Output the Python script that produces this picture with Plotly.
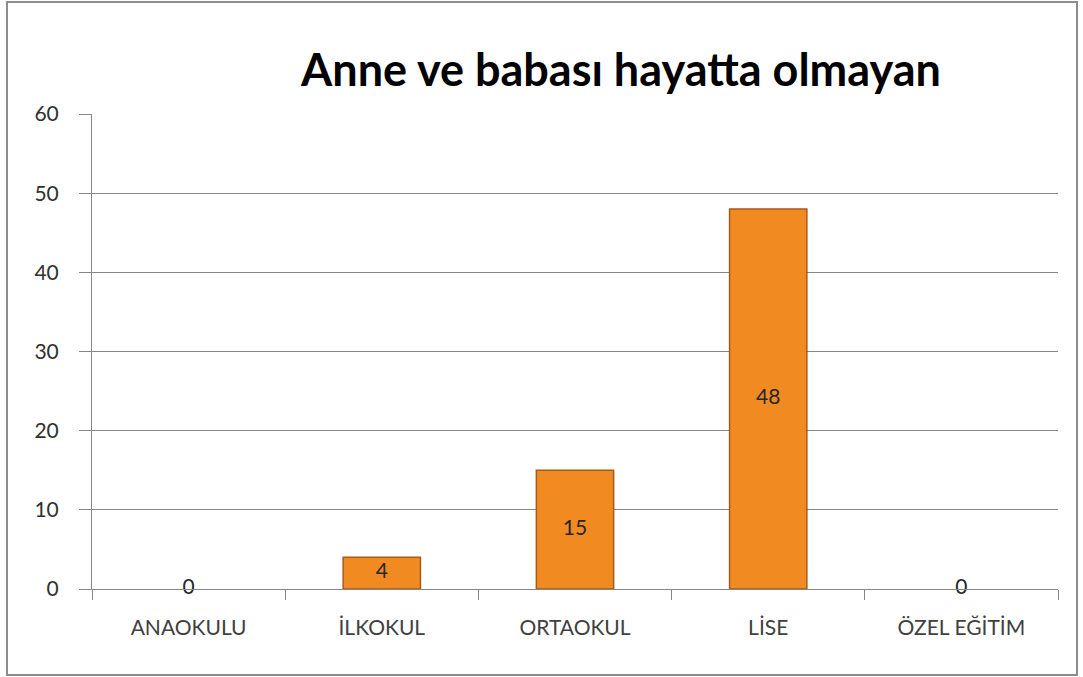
import plotly.graph_objects as go

categories = ["ANAOKULU", "İLKOKUL", "ORTAOKUL", "LİSE", "ÖZEL EĞİTİM"]
values = [0, 4, 15, 48, 0]
y_ticks = [0, 10, 20, 30, 40, 50, 60]
title_text = "Anne ve babası hayatta olmayan"

W, H = 1083, 677
ML, MR, MT, MB = 92, 25, 114, 88
pw = W - ML - MR
ph = H - MT - MB
FONT = "Lato, Noto Sans, sans-serif"

fig = go.Figure()
fig.add_trace(go.Bar(
    x=categories, y=values,
    marker=dict(color="#F28A22",
                line=dict(color="#A85A18", width=[0 if v == 0 else 1.5 for v in values])),
    hoverinfo="x+y",
))
fig.add_trace(go.Scatter(
    x=categories, y=[v / 2 for v in values],
    mode="text", text=[str(v) for v in values],
    textfont=dict(family=FONT, size=21, color="#262626"),
    cliponaxis=False,
    hoverinfo="skip", showlegend=False,
))

axis_font = dict(family=FONT, size=21, color="#404040")
fig.update_layout(
    width=W, height=H,
    margin=dict(l=ML, r=MR, t=MT, b=MB),
    paper_bgcolor="white", plot_bgcolor="white",
    showlegend=False,
    bargap=0.6,
    title=dict(text="<b>" + title_text + "</b>", x=621 / W, xanchor="center",
               y=1 - 70 / H, yanchor="middle",
               font=dict(family=FONT, size=45, color="#000000")),
    xaxis=dict(
        type="category", showline=True, linecolor="#868686", linewidth=1,
        ticks="outside", tickson="boundaries", ticklen=10, tickcolor="#868686",
        tickfont=axis_font, showgrid=False, zeroline=False, ticklabelstandoff=20,
    ),
    yaxis=dict(
        range=[0, 60], tickvals=y_ticks, showline=True, linecolor="#868686", linewidth=1,
        ticks="outside", ticklen=12, tickcolor="#868686",
        showgrid=True, gridcolor="#868686", gridwidth=1, zeroline=False,
        tickfont=dict(family=FONT, size=21, color="#303030"), ticklabelstandoff=16,
    ),
)
# chart area border
fig.add_shape(type="rect", xref="paper", yref="paper",
              x0=(7 - ML) / pw, x1=(1077 - ML) / pw,
              y0=-(675 - MT - ph) / ph, y1=1 + (MT - 2) / ph,
              line=dict(color="#8C8C8C", width=2), fillcolor="rgba(0,0,0,0)", layer="below")

fig.write_html("out.html", config={"displayModeBar": False},
               post_script="document.body.style.margin='0';document.body.style.overflow='hidden';")
